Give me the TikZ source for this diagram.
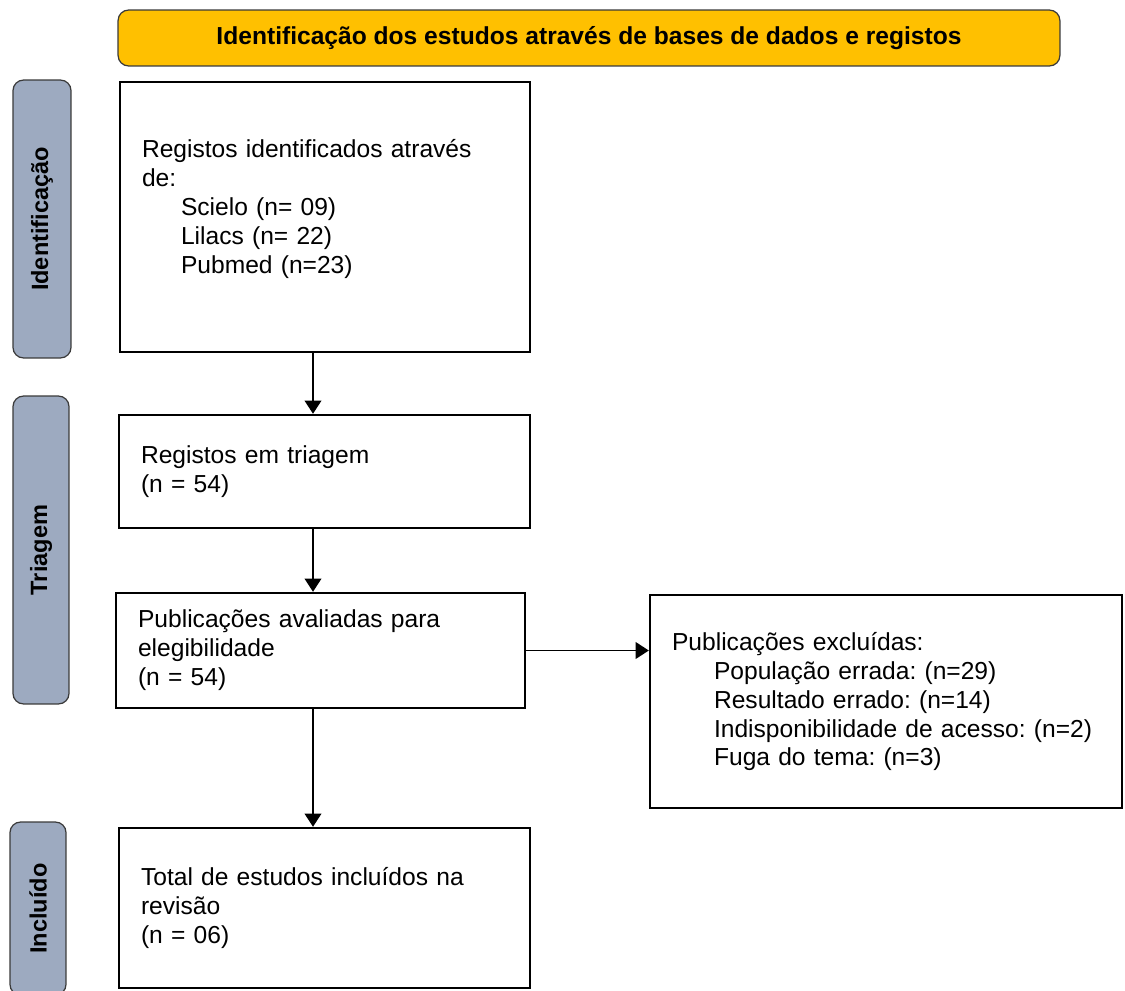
\documentclass[tikz,border=0pt]{standalone}
\usepackage{fontspec}
\setmainfont{Liberation Sans}
\usetikzlibrary{arrows.meta,positioning}
\frenchspacing
\definecolor{bannerFill}{HTML}{FFC000}
\definecolor{phaseFill}{HTML}{9DAAC0}
\definecolor{edgeD}{HTML}{3A3A3A}
\tikzset{
  bodyfont/.style={font=\fontsize{14}{16.5}\selectfont},
  stagebox/.style={bodyfont, draw=black, line width=1.4pt, align=left,
                   inner xsep=0.44cm, inner ysep=0pt},
  phasebox/.style={draw=edgeD, line width=0.7pt, fill=phaseFill,
                   rounded corners=6pt, rotate=90, inner sep=0pt,
                   font=\fontsize{13.4}{16}\selectfont\bfseries},
  bannerbox/.style={draw=edgeD, line width=0.7pt, fill=bannerFill,
                    rounded corners=6pt, inner sep=0pt,
                    font=\fontsize{14}{16}\selectfont\bfseries},
  flow/.style={-{Triangle[length=7.5pt, width=9.5pt]}, line width=0.9pt, black},
}
\begin{document}
\begin{tikzpicture}[x=0.02cm, y=-0.02cm]
  \useasboundingbox (0,0) rectangle (1125,990);
  % banner
  \node[bannerbox, minimum width=18.84cm, minimum height=1.12cm] (banner) at (589,38)
    {Identificação dos estudos através de bases de dados e registos};
  % phases (left)
  \node[phasebox, minimum width=5.56cm, minimum height=1.16cm] (phId) at (42,219) {Identificação};
  \node[phasebox, minimum width=6.16cm, minimum height=1.12cm] (phTri) at (41,550) {Triagem};
  \node[phasebox, minimum width=3.46cm, minimum height=1.12cm] (phInc) at (38,908.5) {Incluído};
  % stages
  \node[stagebox, text width=7.32cm, minimum height=5.4cm] (ident) at (325,217)
    {Registos identificados através\\
     de:\\
     \hspace*{0.78cm}Scielo (n= 09)\\
     \hspace*{0.78cm}Lilacs (n= 22)\\
     \hspace*{0.78cm}Pubmed (n=23)\\[-0.15cm]
     \mbox{}};
  \node[stagebox, text width=7.34cm, minimum height=2.26cm] (screen) at (324.5,471.5)
    {Registos em triagem\\
     (n = 54)};
  \node[stagebox, text width=7.30cm, minimum height=2.30cm] (elig) at (320.5,650.5)
    {Publicações avaliadas para\\
     elegibilidade\\
     (n = 54)};
  \node[stagebox, text width=8.56cm, minimum height=4.26cm] (excl) at (886,701.5)
    {Publicações excluídas:\\
     \hspace*{0.84cm}População errada: (n=29)\\
     \hspace*{0.84cm}Resultado errado: (n=14)\\
     \hspace*{0.84cm}Indisponibilidade de acesso: (n=2)\\
     \hspace*{0.84cm}Fuga do tema: (n=3)};
  \node[stagebox, text width=7.34cm, minimum height=3.2cm] (incl) at (324.5,908)
    {Total de estudos incluídos na\\
     revisão\\
     (n = 06)};
  % connectors
  \coordinate (spine) at (313,0);
  \draw[flow] (spine |- ident.south) -- (spine |- screen.north);
  \draw[flow] (spine |- screen.south) -- (spine |- elig.north);
  \draw[flow] (spine |- elig.south) -- (spine |- incl.north);
  \draw[flow] (elig.east) -- (elig.east -| excl.west);
\end{tikzpicture}
\end{document}
